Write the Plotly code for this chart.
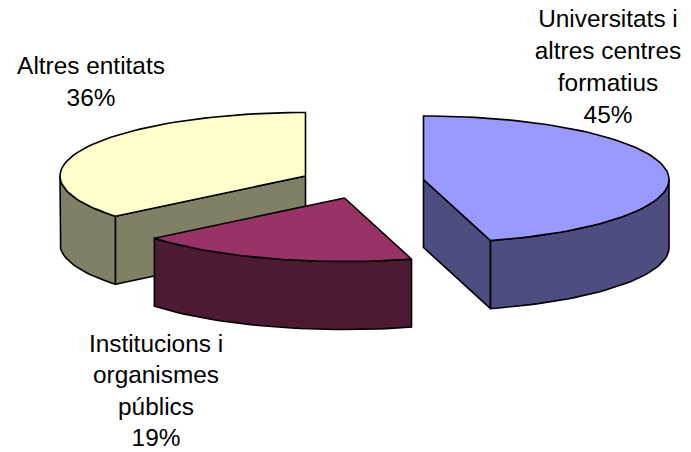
import math
import plotly.graph_objects as go

# Data
categories = ["Universitats i altres centres formatius", "Institucions i organismes públics", "Altres entitats"]
shares = [45.6, 18.5, 35.9]
percent_labels = ["45%", "19%", "36%"]
label_lines = [
    ["Universitats i", "altres centres", "formatius", "45%"],
    ["Institucions i", "organismes", "públics", "19%"],
    ["Altres entitats", "36%"],
]

# Styles and layout
top_colors = ["#9999FF", "#993366", "#FFFFCC"]
side_colors = ["#4D4D80", "#4D1A33", "#808066"]
apexes = [(423.5, 179.5), (344.5, 198), (305.5, 176)]   # exploded slice apex in page pixels
label_pos = [(608, 20.5), (156, 345.5), (91, 68)]       # centre x, first-line centre y
line_step = [32.3, 31.6, 32.3]
RX, RY, DEPTH = 245.5, 63.5, 68
W, H = 691, 452
FONT = dict(family="Liberation Sans, Arial, sans-serif", size=24.4, color="black")

# Slice angles (clockwise from 12 o'clock)
total = sum(shares)
angles = [0]
for s in shares:
    angles.append(angles[-1] + 360 * s / total)


def rim(cx, cy, a0, a1, dy=0):
    n = max(2, int(abs(a1 - a0) / 2))
    pts = [a0 + (a1 - a0) * i / n for i in range(n + 1)]
    xs = [cx + RX * math.sin(math.radians(a)) for a in pts]
    ys = [cy + dy - RY * math.cos(math.radians(a)) for a in pts]
    return xs, ys


def poly(xs, ys, fill, name):
    return go.Scatter(x=xs + xs[:1], y=ys + ys[:1], mode="lines", fill="toself",
                      fillcolor=fill, line=dict(color="black", width=1.6),
                      name=name, hoverinfo="name", showlegend=False)


def walls(i):
    """Visible outer wall pieces: the part of the rim on the lower half (90..270 deg)."""
    a0, a1 = angles[i], angles[i + 1]
    lo, hi = max(a0, 90), min(a1, 270)
    return (lo, hi) if lo < hi else None


fig = go.Figure()
for i in [2, 1, 0]:
    cx, cy = apexes[i]
    a0, a1 = angles[i], angles[i + 1]
    name = categories[i]
    # cut faces facing the viewer
    if i == 2:   # first edge of this slice faces the viewer
        ex, ey = rim(cx, cy, a0, a0)
        fig.add_trace(poly([cx, ex[0], ex[0], cx], [cy, ey[0], ey[0] + DEPTH, cy + DEPTH], side_colors[i], name))
    if i == 0:   # last edge of this slice faces the viewer
        ex, ey = rim(cx, cy, a1, a1)
        fig.add_trace(poly([cx, ex[0], ex[0], cx], [cy, ey[0], ey[0] + DEPTH, cy + DEPTH], side_colors[i], name))
    w = walls(i)
    if w:
        tx, ty = rim(cx, cy, w[0], w[1])
        bx, by = rim(cx, cy, w[0], w[1], DEPTH)
        fig.add_trace(poly(tx + bx[::-1], ty + by[::-1], side_colors[i], name))
    rx, ry = rim(cx, cy, a0, a1)
    fig.add_trace(poly([cx] + rx, [cy] + ry, top_colors[i], f"{name} {percent_labels[i]}"))

for lines, (x, y), step in zip(label_lines, label_pos, line_step):
    fig.add_trace(go.Scatter(
        x=[x] * len(lines), y=[y + k * step for k in range(len(lines))],
        text=lines, mode="text", textposition="middle center", textfont=FONT,
        hoverinfo="skip", showlegend=False, cliponaxis=False,
    ))

fig.update_layout(
    width=W, height=H, autosize=False,
    margin=dict(l=0, r=0, t=0, b=0),
    paper_bgcolor="white", plot_bgcolor="white", showlegend=False,
    xaxis=dict(range=[0, W], visible=False, fixedrange=True),
    yaxis=dict(range=[H, 0], visible=False, fixedrange=True),
)
fig.write_html("out.html", config=dict(displayModeBar=False),
               post_script="document.body.style.margin='0';document.body.style.overflow='hidden';")
